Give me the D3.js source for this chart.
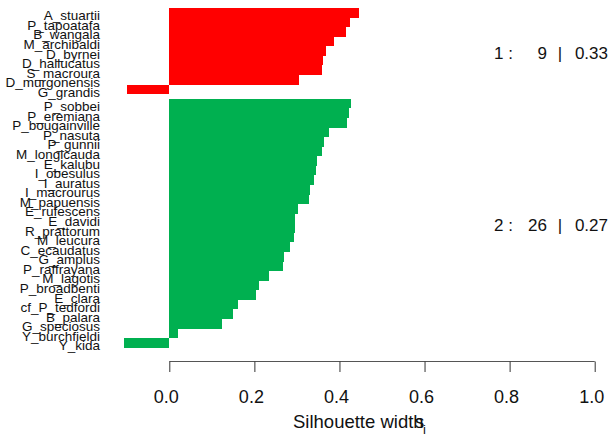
<!DOCTYPE html>
<html>
<head>
<meta charset="utf-8">
<script src="https://cdn.jsdelivr.net/npm/d3@7"></script>
<style>
  html, body { margin: 0; padding: 0; background: #fff; }
  svg { display: block; font-family: "Liberation Sans", Arial, sans-serif; }
</style>
</head>
<body>
<svg id="chart" width="613" height="444"></svg>
<script>
// ---- data ----
const cluster1Labels = ["A_stuartii","P_tapoatafa","B_wangala","M_archibaldi","D_byrnei","D_hallucatus","S_macroura","D_murgonensis","G_grandis"];
const cluster1Values = [0.445,0.424,0.415,0.386,0.369,0.361,0.360,0.304,-0.100];
const cluster2Labels = ["P_sobbei","P_eremiana","P_bougainville","P_nasuta","P_gunnii","M_longicauda","E_kalubu","I_obesulus","I_auratus","I_macrourus","M_papuensis","E_rufescens","E_davidi","R_prattorum","M_leucura","C_ecaudatus","G_amplus","P_raffrayana","M_lagotis","P_broadbenti","E_clara","cf_P_tedfordi","B_palara","G_speciosus","Y_burchfieldi","Y_kida"];
const cluster2Values = [0.427,0.422,0.417,0.375,0.363,0.358,0.347,0.346,0.340,0.330,0.328,0.302,0.295,0.295,0.292,0.283,0.269,0.267,0.234,0.210,0.203,0.161,0.149,0.123,0.020,-0.107];
const clusterIds = [1, 2];
const clusterColors = ["#FF0000", "#00B050"];
const xTicks = [0, 0.2, 0.4, 0.6, 0.8, 1.0];

// ---- build rows ----
const groups = [
  {id: clusterIds[0], labels: cluster1Labels, values: cluster1Values, color: clusterColors[0]},
  {id: clusterIds[1], labels: cluster2Labels, values: cluster2Values, color: clusterColors[1]}
];
const rows = [];
let pos = 0;
groups.forEach((g, gi) => {
  if (gi > 0) pos += 0.5;
  g.start = pos;
  g.labels.forEach((lab, i) => {
    rows.push({label: lab, value: g.values[i], pos: pos, color: g.color});
    pos += 1;
  });
  g.end = pos;
});
const totalUnits = pos;

const svg = d3.select("#chart");
const x = d3.scaleLinear().domain([0, 1]).range([169.3, 594.7]);
const y = d3.scaleLinear().domain([0, totalUnits]).range([8, 347.7]);

// bars
svg.append("g").selectAll("rect").data(rows).join("rect")
  .attr("x", d => x(Math.min(0, d.value)))
  .attr("width", d => Math.abs(x(d.value) - x(0)))
  .attr("y", d => y(d.pos))
  .attr("height", d => y(d.pos + 1) - y(d.pos))
  .attr("fill", d => d.color)
  .attr("shape-rendering", "crispEdges");

// row labels
svg.append("g").selectAll("text").data(rows).join("text")
  .attr("x", 100)
  .attr("y", d => (y(d.pos) + y(d.pos + 1)) / 2 + 7.5)
  .attr("text-anchor", "end")
  .attr("font-size", 13.5)
  .attr("fill", "#111")
  .text(d => d.label);

// cluster summaries
const fmt = d3.format(".2f");
groups.forEach(g => {
  const cy = (y(g.start) + y(g.end)) / 2 + 8;
  const t = svg.append("g").attr("font-size", 17).attr("fill", "#111");
  t.append("text").attr("x", 513).attr("y", cy).attr("text-anchor", "end").text(g.id + " :");
  t.append("text").attr("x", 547).attr("y", cy).attr("text-anchor", "end").text(g.values.length);
  t.append("text").attr("x", 560).attr("y", cy).attr("text-anchor", "middle").text("|");
  t.append("text").attr("x", 608).attr("y", cy).attr("text-anchor", "end").text(fmt(d3.mean(g.values)));
});

// x axis
const axisY = 361.5;
const axis = d3.axisBottom(x).tickValues(xTicks).tickFormat(d3.format(".1f")).tickSize(10.5).tickPadding(0);
const ag = svg.append("g").attr("transform", `translate(0,${axisY})`).call(axis);
ag.select(".domain").attr("stroke", "#555").attr("d", `M${x(0)},0H${x(1)}`);
ag.selectAll(".tick line").attr("stroke", "#333");
ag.selectAll(".tick text")
  .attr("font-size", 18)
  .attr("font-family", "Liberation Sans, Arial, sans-serif")
  .attr("fill", "#111")
  .attr("dy", null)
  .attr("y", 41)
  .attr("dx", -3.5);

// x label
const xl = svg.append("g").attr("fill", "#111");
xl.append("text").attr("x", 293).attr("y", 427.5).attr("font-size", 18.5).text("Silhouette width");
xl.append("text").attr("x", 415).attr("y", 427.5).attr("font-size", 18.5).text("s");
xl.append("text").attr("x", 423).attr("y", 433.5).attr("font-size", 13).text("i");
</script>
</body>
</html>
